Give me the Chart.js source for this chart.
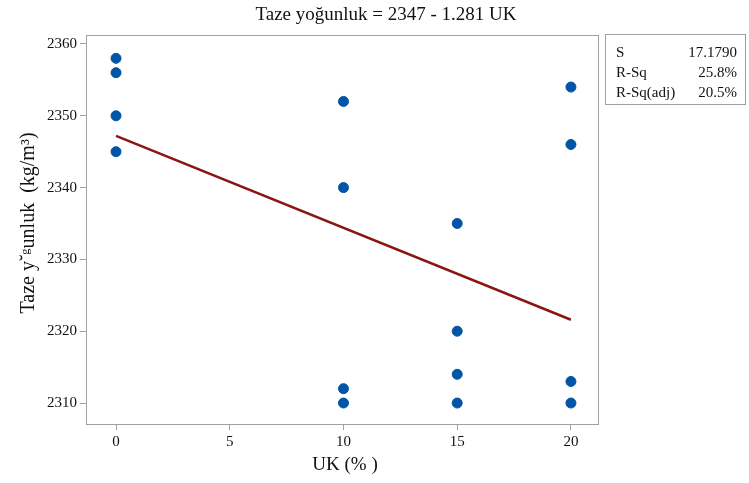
<!DOCTYPE html>
<html>
<head>
<meta charset="utf-8">
<script src="https://cdn.jsdelivr.net/npm/chart.js@4/dist/chart.umd.min.js"></script>
<style>
  html, body { margin: 0; padding: 0; background: #fff; }
  #wrap { width: 749px; height: 483px; }
</style>
</head>
<body>
<div id="wrap"><canvas id="chart" width="749" height="483"></canvas></div>
<script>
// observed points (UK %, fresh density)
const ukValues = [0, 0, 0, 0, 10, 10, 10, 10, 15, 15, 15, 15, 20, 20, 20, 20];
const densityValues = [2358, 2356, 2350, 2345, 2352, 2340, 2312, 2310, 2335, 2320, 2314, 2310, 2354, 2346, 2313, 2310];

// fitted line: Taze yogunluk = 2347 - 1.281 UK
const fitX = [0, 20];
const fitY = [2347.2, 2321.6];

const xTicks = [0, 5, 10, 15, 20];
const yTicks = [2310, 2320, 2330, 2340, 2350, 2360];

const statLabels = ['S', 'R-Sq', 'R-Sq(adj)'];
const statValues = ['17.1790', '25.8%', '20.5%'];

const titleText = 'Taze yoğunluk = 2347 - 1.281 UK';
const xTitle = 'UK (% )';
const yTitle = 'Taze y\u02D8\u1D4Dunluk  (kg/m\u00B3)';

const serif = '"Liberation Serif", "Times New Roman", serif';
const gridGrey = '#a0a0a0';

const extras = {
  id: 'extras',
  afterDraw(chart) {
    const ctx = chart.ctx;
    const a = chart.chartArea;
    ctx.save();
    // plot frame
    ctx.strokeStyle = gridGrey;
    ctx.lineWidth = 1;
    ctx.strokeRect(a.left + 0.5, a.top + 0.5, a.right - a.left, a.bottom - a.top);

    ctx.fillStyle = '#111';
    ctx.textBaseline = 'middle';
    ctx.textAlign = 'center';
    ctx.font = '19px ' + serif;
    ctx.fillText(titleText, 386, 15);
    ctx.fillText(xTitle, 345, 465);

    ctx.save();
    ctx.translate(29, 223);
    ctx.rotate(-Math.PI / 2);
    ctx.font = '20px ' + serif;
    ctx.fillText(yTitle, 0, 0);
    ctx.restore();

    // stats box
    ctx.strokeStyle = gridGrey;
    ctx.strokeRect(605.5, 34.5, 140, 70);
    ctx.font = '15px ' + serif;
    statLabels.forEach((lab, i) => {
      const y = 53 + i * 20;
      ctx.textAlign = 'left';
      ctx.fillText(lab, 616, y);
      ctx.textAlign = 'right';
      ctx.fillText(statValues[i], 737, y);
    });
    ctx.restore();
  }
};

new Chart(document.getElementById('chart'), {
  type: 'scatter',
  data: {
    datasets: [{
      label: 'fit',
      type: 'line',
      data: fitX.map((x, i) => ({ x: x, y: fitY[i] })),
      borderColor: '#8b1515',
      borderWidth: 2.5,
      pointRadius: 0,
      fill: false
    }, {
      label: 'data',
      data: ukValues.map((x, i) => ({ x: x, y: densityValues[i] })),
      backgroundColor: '#0055a6',
      borderColor: '#0055a6',
      pointRadius: 5,
      pointHoverRadius: 5
    }]
  },
  options: {
    responsive: false,
    animation: false,
    events: [],
    layout: { padding: { top: 35, right: 151, left: 0, bottom: 0 } },
    plugins: { legend: { display: false }, tooltip: { enabled: false }, title: { display: false } },
    scales: {
      x: {
        type: 'linear',
        min: -1.32,
        max: 21.19,
        afterBuildTicks: s => { s.ticks = xTicks.map(v => ({ value: v })); },
        afterFit: s => { s.height = 59; },
        border: { display: false },
        grid: { drawOnChartArea: false, tickLength: 6, color: gridGrey },
        ticks: { color: '#111', font: { family: serif, size: 15 }, padding: 3, maxRotation: 0,
                 callback: v => String(v) }
      },
      y: {
        type: 'linear',
        min: 2307.08,
        max: 2361.25,
        afterBuildTicks: s => { s.ticks = yTicks.map(v => ({ value: v })); },
        afterFit: s => { s.width = 86; },
        border: { display: false },
        grid: { drawOnChartArea: false, tickLength: 6, color: gridGrey },
        ticks: { color: '#111', font: { family: serif, size: 15 }, padding: 3,
                 callback: v => String(v) }
      }
    }
  },
  plugins: [extras]
});
</script>
</body>
</html>
